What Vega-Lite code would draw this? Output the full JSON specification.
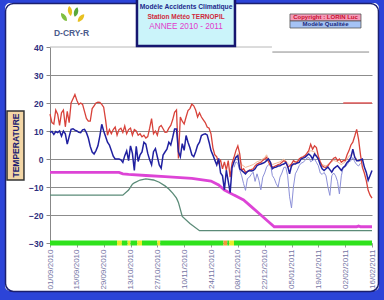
{
"$schema":"https://vega.github.io/schema/vega-lite/v6.json",
"width":322,"height":196,
"autosize":{"type":"none"},
"padding":{"left":50,"top":47,"right":12,"bottom":57},
"background":"white",
"config":{"view":{"stroke":null},"font":"Liberation Sans",
 "axis":{"labelFont":"Liberation Sans","labelOverlap":false,"labelFlush":false,"labelBound":false}},
"datasets":{
"temps":[
{"date":"2010-09-01","tmax":16,"tmoy":9.5},{"date":"2010-09-02","tmax":13,"tmoy":9.8},{"date":"2010-09-03","tmax":12.5,"tmoy":8.8},{"date":"2010-09-04","tmax":17.5,"tmoy":9.8},{"date":"2010-09-05","tmax":16,"tmoy":9.4},{"date":"2010-09-06","tmax":12,"tmoy":10},{"date":"2010-09-07","tmax":16.5,"tmoy":8.2},{"date":"2010-09-08","tmax":17.5,"tmoy":10},{"date":"2010-09-09","tmax":11.5,"tmoy":9},{"date":"2010-09-10","tmax":17,"tmoy":5.3},
{"date":"2010-09-11","tmax":13,"tmoy":8},{"date":"2010-09-12","tmax":20,"tmoy":10.6},{"date":"2010-09-13","tmax":21.5,"tmoy":10.8},{"date":"2010-09-14","tmax":23,"tmoy":10.3},{"date":"2010-09-15","tmax":21,"tmoy":10},{"date":"2010-09-16","tmax":19.5,"tmoy":9.5},{"date":"2010-09-17","tmax":20,"tmoy":9.4},{"date":"2010-09-18","tmax":19.5,"tmoy":10.4},{"date":"2010-09-19","tmax":17,"tmoy":10.6},{"date":"2010-09-20","tmax":14.5,"tmoy":9.4},
{"date":"2010-09-21","tmax":13.5,"tmoy":7.5},{"date":"2010-09-22","tmax":13.5,"tmoy":4.5},{"date":"2010-09-23","tmax":18,"tmoy":2.5},{"date":"2010-09-24","tmax":19,"tmoy":1.8},{"date":"2010-09-25","tmax":20,"tmoy":3},{"date":"2010-09-26","tmax":20.3,"tmoy":4.7},{"date":"2010-09-27","tmax":20.2,"tmoy":8.2},{"date":"2010-09-28","tmax":19.5,"tmoy":12.4},{"date":"2010-09-29","tmax":18.5,"tmoy":10},{"date":"2010-09-30","tmax":14,"tmoy":8},
{"date":"2010-10-01","tmax":8.5,"tmoy":6},{"date":"2010-10-02","tmax":10.5,"tmoy":5},{"date":"2010-10-03","tmax":9,"tmoy":3},{"date":"2010-10-04","tmax":10.5,"tmoy":1},{"date":"2010-10-05","tmax":11.4,"tmoy":0},{"date":"2010-10-06","tmax":8.5,"tmoy":0},{"date":"2010-10-07","tmax":10.5,"tmoy":0},{"date":"2010-10-08","tmax":11,"tmoy":-0.3},{"date":"2010-10-09","tmax":9.5,"tmoy":-1.2},{"date":"2010-10-10","tmax":11.8,"tmoy":1.2},
{"date":"2010-10-11","tmax":9,"tmoy":2.9},{"date":"2010-10-12","tmax":10.5,"tmoy":-0.6},{"date":"2010-10-13","tmax":11,"tmoy":4.7},{"date":"2010-10-14","tmax":8.5,"tmoy":2},{"date":"2010-10-15","tmax":10.5,"tmoy":-4.1},{"date":"2010-10-16","tmax":10,"tmoy":4.5},{"date":"2010-10-17","tmax":8.5,"tmoy":-0.9},{"date":"2010-10-18","tmax":9,"tmoy":1.5},{"date":"2010-10-19","tmax":7.9,"tmoy":2.5},{"date":"2010-10-20","tmax":8.5,"tmoy":6},
{"date":"2010-10-21","tmax":7.5,"tmoy":5.3},{"date":"2010-10-22","tmax":8,"tmoy":2},{"date":"2010-10-23","tmax":11,"tmoy":-0.3},{"date":"2010-10-24","tmax":14.4,"tmoy":-2.1},{"date":"2010-10-25","tmax":9,"tmoy":2.6},{"date":"2010-10-26","tmax":10,"tmoy":3.7},{"date":"2010-10-27","tmax":8.5,"tmoy":0.8},{"date":"2010-10-28","tmax":11.4,"tmoy":-2.1},{"date":"2010-10-29","tmax":12,"tmoy":-3.3},{"date":"2010-10-30","tmax":10.8,"tmoy":1.4},
{"date":"2010-10-31","tmax":9.5,"tmoy":2.5},{"date":"2010-11-01","tmax":9.6,"tmoy":3.5},{"date":"2010-11-02","tmax":11,"tmoy":6},{"date":"2010-11-03","tmax":12,"tmoy":5},{"date":"2010-11-04","tmax":14,"tmoy":7.7},{"date":"2010-11-05","tmax":16.7,"tmoy":10.7},{"date":"2010-11-06","tmax":17.5,"tmoy":10.7},{"date":"2010-11-07","tmax":0.2,"tmoy":2.6},{"date":"2010-11-08","tmax":15,"tmoy":0.8},{"date":"2010-11-09","tmax":13.5,"tmoy":5.5},
{"date":"2010-11-10","tmax":12.5,"tmoy":3.1},{"date":"2010-11-11","tmax":15,"tmoy":8.4},{"date":"2010-11-12","tmax":17.3,"tmoy":6},{"date":"2010-11-13","tmax":18,"tmoy":4},{"date":"2010-11-14","tmax":19.6,"tmoy":1.5},{"date":"2010-11-15","tmax":19,"tmoy":0.8},{"date":"2010-11-16","tmax":17.5,"tmoy":2.6},{"date":"2010-11-17","tmax":15,"tmoy":4.9},{"date":"2010-11-18","tmax":16.5,"tmoy":6},{"date":"2010-11-19","tmax":15,"tmoy":8.4},
{"date":"2010-11-20","tmax":14,"tmoy":8.8},{"date":"2010-11-21","tmax":13,"tmoy":9},{"date":"2010-11-22","tmax":11.4,"tmoy":8.6},{"date":"2010-11-23","tmax":11,"tmoy":6},{"date":"2010-11-24","tmax":9,"tmoy":3},{"date":"2010-11-25","tmax":4,"tmoy":1.4},{"date":"2010-11-26","tmax":1.5,"tmoy":-0.4},{"date":"2010-11-27","tmax":0.8,"tmoy":-2.1},{"date":"2010-11-28","tmax":-1.5,"tmoy":0.2},{"date":"2010-11-29","tmax":-0.5,"tmoy":-5},
{"date":"2010-11-30","tmax":-3.5,"tmoy":-6},{"date":"2010-12-01","tmax":-1,"tmoy":-11},{"date":"2010-12-02","tmax":-4,"tmoy":-4},{"date":"2010-12-03","tmax":-0.6,"tmoy":-8},{"date":"2010-12-04","tmax":-6.5,"tmoy":-12},{"date":"2010-12-05","tmax":-1.5,"tmoy":-3},{"date":"2010-12-06","tmax":0.6,"tmoy":-1},{"date":"2010-12-07","tmax":3,"tmoy":0.6},{"date":"2010-12-08","tmax":4.7,"tmoy":1.2},{"date":"2010-12-09","tmax":1.8,"tmoy":-3.5},
{"date":"2010-12-10","tmax":-4,"tmoy":-4.1},{"date":"2010-12-11","tmax":-3.5,"tmoy":-4.7},{"date":"2010-12-12","tmax":-4.7,"tmoy":-5.3},{"date":"2010-12-13","tmax":-4.5,"tmoy":-4.5},{"date":"2010-12-14","tmax":-4,"tmoy":-4.1},{"date":"2010-12-15","tmax":-3.8,"tmoy":-4.3},{"date":"2010-12-16","tmax":-3.5,"tmoy":-4.1},{"date":"2010-12-17","tmax":-2.5,"tmoy":-3.5},{"date":"2010-12-18","tmax":-1.8,"tmoy":-2.4},{"date":"2010-12-19","tmax":-1.5,"tmoy":-2},
{"date":"2010-12-20","tmax":-1.2,"tmoy":-1.8},{"date":"2010-12-21","tmax":-0.5,"tmoy":-1.5},{"date":"2010-12-22","tmax":0,"tmoy":-1.2},{"date":"2010-12-23","tmax":0.6,"tmoy":-0.6},{"date":"2010-12-24","tmax":-1,"tmoy":0},{"date":"2010-12-25","tmax":-2.4,"tmoy":-1.2},{"date":"2010-12-26","tmax":-2.9,"tmoy":-3.5},{"date":"2010-12-27","tmax":-2.7,"tmoy":-3},{"date":"2010-12-28","tmax":-2.4,"tmoy":-2.9},{"date":"2010-12-29","tmax":-2,"tmoy":-2.5},
{"date":"2010-12-30","tmax":-1.8,"tmoy":-2.4},{"date":"2010-12-31","tmax":-1.2,"tmoy":-2},{"date":"2011-01-01","tmax":-0.6,"tmoy":-1.8},{"date":"2011-01-02","tmax":-1,"tmoy":-1.2},{"date":"2011-01-03","tmax":-2.9,"tmoy":-2.5},{"date":"2011-01-04","tmax":-2.5,"tmoy":-5.3},{"date":"2011-01-05","tmax":-1.8,"tmoy":-2.4},{"date":"2011-01-06","tmax":-0.6,"tmoy":-1.8},{"date":"2011-01-07","tmax":-1,"tmoy":-1.8},{"date":"2011-01-08","tmax":-1.2,"tmoy":-1.4},
{"date":"2011-01-09","tmax":0,"tmoy":-1.2},{"date":"2011-01-10","tmax":0.5,"tmoy":0},{"date":"2011-01-11","tmax":0.8,"tmoy":0.3},{"date":"2011-01-12","tmax":1.2,"tmoy":0.6},{"date":"2011-01-13","tmax":2,"tmoy":1.2},{"date":"2011-01-14","tmax":3,"tmoy":1.8},{"date":"2011-01-15","tmax":5.3,"tmoy":1.2},{"date":"2011-01-16","tmax":3.5,"tmoy":0},{"date":"2011-01-17","tmax":4.7,"tmoy":1.8},{"date":"2011-01-18","tmax":4.1,"tmoy":1},
{"date":"2011-01-19","tmax":1,"tmoy":0},{"date":"2011-01-20","tmax":-1,"tmoy":-2},{"date":"2011-01-21","tmax":-2.4,"tmoy":-3.5},{"date":"2011-01-22","tmax":-2.9,"tmoy":-4.1},{"date":"2011-01-23","tmax":-3,"tmoy":-3.5},{"date":"2011-01-24","tmax":-2.4,"tmoy":-2.9},{"date":"2011-01-25","tmax":-1.5,"tmoy":-3.8},{"date":"2011-01-26","tmax":-0.6,"tmoy":-4.7},{"date":"2011-01-27","tmax":0.3,"tmoy":-3.5},{"date":"2011-01-28","tmax":0.6,"tmoy":-2.9},
{"date":"2011-01-29","tmax":-0.6,"tmoy":-2.4},{"date":"2011-01-30","tmax":0,"tmoy":-3.2},{"date":"2011-01-31","tmax":-1.2,"tmoy":-4.1},{"date":"2011-02-01","tmax":-0.6,"tmoy":-3},{"date":"2011-02-02","tmax":-0.6,"tmoy":-2.4},{"date":"2011-02-03","tmax":1.5,"tmoy":-1.2},{"date":"2011-02-04","tmax":3,"tmoy":-0.6},{"date":"2011-02-05","tmax":5,"tmoy":0.6},{"date":"2011-02-06","tmax":6,"tmoy":3.5},{"date":"2011-02-07","tmax":8.2,"tmoy":0.6},
{"date":"2011-02-08","tmax":10.6,"tmoy":-0.6},{"date":"2011-02-09","tmax":7,"tmoy":-0.6},{"date":"2011-02-10","tmax":1.5,"tmoy":-0.3},{"date":"2011-02-11","tmax":-3,"tmoy":0},{"date":"2011-02-12","tmax":-5,"tmoy":-2.9},{"date":"2011-02-13","tmax":-7.6,"tmoy":-4.7},{"date":"2011-02-14","tmax":-11.2,"tmoy":-7.6},{"date":"2011-02-15","tmax":-12.9,"tmoy":-5.9},{"date":"2011-02-16","tmax":-14,"tmoy":-4.1}
],
"tmin":[
{"date":"2010-12-06","t":-3},{"date":"2010-12-07","t":-1},{"date":"2010-12-08","t":-1.5},{"date":"2010-12-09","t":-4},{"date":"2010-12-10","t":-6},{"date":"2010-12-11","t":-8.8},{"date":"2010-12-12","t":-11.2},{"date":"2010-12-13","t":-7},{"date":"2010-12-14","t":-6.5},{"date":"2010-12-15","t":-5.5},
{"date":"2010-12-16","t":-4.7},{"date":"2010-12-17","t":-8},{"date":"2010-12-18","t":-5.3},{"date":"2010-12-19","t":-7.6},{"date":"2010-12-20","t":-11},{"date":"2010-12-21","t":-6.5},{"date":"2010-12-22","t":-5},{"date":"2010-12-23","t":-2.9},{"date":"2010-12-24","t":-2},{"date":"2010-12-25","t":-1.5},
{"date":"2010-12-26","t":-5.9},{"date":"2010-12-27","t":-7},{"date":"2010-12-28","t":-8.8},{"date":"2010-12-29","t":-10},{"date":"2010-12-30","t":-6.5},{"date":"2010-12-31","t":-5},{"date":"2011-01-01","t":-3},{"date":"2011-01-02","t":-2.9},{"date":"2011-01-03","t":-6},{"date":"2011-01-04","t":-13.5},
{"date":"2011-01-05","t":-17.5},{"date":"2011-01-06","t":-10},{"date":"2011-01-07","t":-5.3},{"date":"2011-01-08","t":-4},{"date":"2011-01-09","t":-2.4},{"date":"2011-01-10","t":-1.5},{"date":"2011-01-11","t":-1.2},{"date":"2011-01-12","t":-0.6},{"date":"2011-01-13","t":0.3},{"date":"2011-01-14","t":0.6},
{"date":"2011-01-15","t":-1},{"date":"2011-01-16","t":-0.5},{"date":"2011-01-17","t":0},{"date":"2011-01-18","t":-1.2},{"date":"2011-01-19","t":-2.4},{"date":"2011-01-20","t":-5},{"date":"2011-01-21","t":-5.5},{"date":"2011-01-22","t":-4.8},{"date":"2011-01-23","t":-6},{"date":"2011-01-24","t":-10},
{"date":"2011-01-25","t":-13},{"date":"2011-01-26","t":-6},{"date":"2011-01-27","t":-5},{"date":"2011-01-28","t":-6},{"date":"2011-01-29","t":-8},{"date":"2011-01-30","t":-12.5},{"date":"2011-01-31","t":-6},{"date":"2011-02-01","t":-3},{"date":"2011-02-02","t":-2.9},{"date":"2011-02-03","t":-2},
{"date":"2011-02-04","t":-1},{"date":"2011-02-05","t":-0.6},{"date":"2011-02-06","t":0.5},{"date":"2011-02-07","t":-1},{"date":"2011-02-08","t":-2},{"date":"2011-02-09","t":-2.5},{"date":"2011-02-10","t":-1.5}
],
"talt":[
{"date":"2010-12-06","t":-1},{"date":"2010-12-08","t":2},{"date":"2010-12-10","t":-2},{"date":"2010-12-12","t":-3},{"date":"2010-12-14","t":-2.5},{"date":"2010-12-16","t":-2},{"date":"2010-12-18","t":-1},{"date":"2010-12-20","t":-0.5},{"date":"2010-12-22","t":0.5},{"date":"2010-12-23","t":1.5},
{"date":"2010-12-24","t":0},{"date":"2010-12-26","t":-2},{"date":"2010-12-28","t":-1.5},{"date":"2010-12-30","t":-1},{"date":"2011-01-01","t":0},{"date":"2011-01-03","t":-1.5},{"date":"2011-01-05","t":-3},{"date":"2011-01-07","t":-1},{"date":"2011-01-09","t":-0.5},{"date":"2011-01-11","t":0.5},
{"date":"2011-01-13","t":1.5},{"date":"2011-01-15","t":3},{"date":"2011-01-17","t":2.5},{"date":"2011-01-19","t":0},{"date":"2011-01-21","t":-2},{"date":"2011-01-23","t":-2.5},{"date":"2011-01-25","t":-1.5},{"date":"2011-01-27","t":-0.5},{"date":"2011-01-29","t":-1},{"date":"2011-01-31","t":-2},
{"date":"2011-02-02","t":-1},{"date":"2011-02-04","t":1},{"date":"2011-02-06","t":2},{"date":"2011-02-08","t":0},{"date":"2011-02-10","t":-1}
],
"neige":[
{"date":"2010-09-01","t":-4.8},{"date":"2010-10-07","t":-4.8},{"date":"2010-10-09","t":-5.3},{"date":"2010-10-12","t":-5.5},{"date":"2010-10-21","t":-5.9},{"date":"2010-10-31","t":-6.3},{"date":"2010-11-14","t":-6.9},{"date":"2010-11-24","t":-7.9},{"date":"2010-11-28","t":-9.3},{"date":"2010-12-01","t":-11.1},
{"date":"2010-12-06","t":-12.9},{"date":"2010-12-11","t":-14.6},{"date":"2010-12-15","t":-17},{"date":"2010-12-20","t":-20},{"date":"2010-12-24","t":-22.4},{"date":"2010-12-27","t":-24.2},{"date":"2011-02-08","t":-24.2},{"date":"2011-02-09","t":-23.9},{"date":"2011-02-10","t":-24.2},{"date":"2011-02-16","t":-24.2}
],
"gel":[
{"date":"2010-09-01","t":-12.9},{"date":"2010-10-09","t":-12.9},{"date":"2010-10-12","t":-11.1},{"date":"2010-10-14","t":-9},{"date":"2010-10-15","t":-8.5},{"date":"2010-10-18","t":-7.5},{"date":"2010-10-21","t":-7.1},{"date":"2010-10-25","t":-7.5},{"date":"2010-10-28","t":-8.3},{"date":"2010-10-31","t":-9.6},
{"date":"2010-11-02","t":-10.7},{"date":"2010-11-04","t":-12.2},{"date":"2010-11-06","t":-14},{"date":"2010-11-07","t":-15.5},{"date":"2010-11-09","t":-20.5},{"date":"2010-11-13","t":-23},{"date":"2010-11-18","t":-25.6},{"date":"2011-02-16","t":-25.6}
],
"seuil":[{"date":"2011-02-01","t":20},{"date":"2011-02-16","t":20}],
"etat":[
{"start":"2010-09-01","end":"2010-10-06","niveau":"normal"},
{"start":"2010-10-06","end":"2010-10-08T12:00","niveau":"vigilance"},
{"start":"2010-10-08T12:00","end":"2010-10-11T12:00","niveau":"normal"},
{"start":"2010-10-11T12:00","end":"2010-10-13","niveau":"vigilance"},
{"start":"2010-10-13","end":"2010-10-16T12:00","niveau":"normal"},
{"start":"2010-10-16T12:00","end":"2010-10-19","niveau":"vigilance"},
{"start":"2010-10-19","end":"2010-10-27","niveau":"normal"},
{"start":"2010-10-27","end":"2010-10-28T12:00","niveau":"vigilance"},
{"start":"2010-10-28T12:00","end":"2010-11-30T12:00","niveau":"normal"},
{"start":"2010-11-30T12:00","end":"2010-12-02T12:00","niveau":"alerte"},
{"start":"2010-12-02T12:00","end":"2010-12-03T12:00","niveau":"normal"},
{"start":"2010-12-03T12:00","end":"2010-12-06","niveau":"vigilance"},
{"start":"2010-12-06","end":"2011-02-16","niveau":"normal"}
]
},
"layer":[
{"data":{"name":"gel"},
 "mark":{"type":"line","color":"#5b8b78","strokeWidth":1.3},
 "encoding":{
  "x":{"field":"date","type":"temporal","title":null,
   "scale":{"domain":[{"year":2010,"month":9,"date":1},{"year":2011,"month":2,"date":16}],"nice":false},
   "axis":{"title":null,"tickCount":40,"values":[{"year":2010,"month":9,"date":1},{"year":2010,"month":9,"date":15},{"year":2010,"month":9,"date":29},{"year":2010,"month":10,"date":13},{"year":2010,"month":10,"date":27},{"year":2010,"month":11,"date":10},{"year":2010,"month":11,"date":24},{"year":2010,"month":12,"date":8},{"year":2010,"month":12,"date":22},{"year":2011,"month":1,"date":5},{"year":2011,"month":1,"date":19},{"year":2011,"month":2,"date":2},{"year":2011,"month":2,"date":16}],
    "format":"%d/%m/%Y","labelAngle":-90,"labelFontSize":8,"labelColor":"#7474a4","tickSize":4,"tickColor":"#999999","domain":false,"grid":false,"labelPadding":2}},
  "y":{"field":"t","type":"quantitative","title":null,
   "scale":{"domain":[-30,40],"nice":false,"zero":false},
   "axis":{"title":null,"tickCount":40,"values":[-30,-20,-10,0,10,20,30,40],"labelFontWeight":"bold","labelFontSize":8.5,"labelColor":"#2e2e7e","tickSize":4,"tickColor":"#888888","domainColor":"#888888","grid":true,"gridColor":"#8c8c8c","gridOpacity":{"condition":{"test":"datum.value === 40","value":0},"value":1},"labelPadding":3}}}},
{"data":{"values":[{}]},
 "mark":{"type":"rect","filled":false,"stroke":"#2c44d8","strokeWidth":14,"cornerRadius":12},
 "encoding":{"x":{"datum":{"year":2010,"month":8,"date":4,"hours":21},"type":"temporal"},"x2":{"datum":{"year":2011,"month":2,"date":23,"hours":7}},"y":{"datum":58.2,"type":"quantitative"},"y2":{"datum":-49.6}}},
{"data":{"values":[{}]},
 "mark":{"type":"rect","filled":false,"stroke":"#1b1f6e","strokeWidth":1.5,"cornerRadius":8},
 "encoding":{"x":{"datum":{"year":2010,"month":8,"date":8,"hours":19},"type":"temporal"},"x2":{"datum":{"year":2011,"month":2,"date":19,"hours":9}},"y":{"datum":55.54},"y2":{"datum":-47.32}}},
{"data":{"values":[{}]},
 "mark":{"type":"rule","color":"#b8b8b8","strokeWidth":1},
 "encoding":{"x":{"datum":{"year":2010,"month":9,"date":1},"type":"temporal"},"x2":{"datum":{"year":2010,"month":12,"date":25,"hours":19}},"y":{"datum":40}}},
{"data":{"values":[{}]},
 "mark":{"type":"rule","color":"#8a8a8a","strokeWidth":1},
 "encoding":{"x":{"datum":{"year":2010,"month":12,"date":26},"type":"temporal"},"x2":{"datum":{"year":2011,"month":2,"date":14,"hours":12}},"y":{"datum":38.2}}},
{"data":{"values":[{}]},
 "mark":{"type":"rect","fill":"#cbf4fa","stroke":"#161670","strokeWidth":2.5},
 "encoding":{"x":{"datum":{"year":2010,"month":10,"date":16,"hours":9},"type":"temporal"},"x2":{"datum":{"year":2010,"month":12,"date":6,"hours":12}},"y":{"datum":57.5},"y2":{"datum":40.36}}},
{"data":{"values":[{}]},
 "mark":{"type":"text","text":"Modèle Accidents Climatique","fontSize":6.7,"fontWeight":"bold","color":"#1c2a8c","align":"center","baseline":"middle"},
 "encoding":{"x":{"datum":{"year":2010,"month":11,"date":11},"type":"temporal"},"y":{"datum":54.3}}},
{"data":{"values":[{}]},
 "mark":{"type":"text","text":"Station Météo TERNOPIL","fontSize":6.5,"fontWeight":"bold","color":"#d02a3a","align":"center","baseline":"middle"},
 "encoding":{"x":{"datum":{"year":2010,"month":11,"date":11},"type":"temporal"},"y":{"datum":50.7}}},
{"data":{"values":[{}]},
 "mark":{"type":"text","text":"ANNEE 2010 - 2011","fontSize":8.2,"color":"#e03ccc","align":"center","baseline":"middle"},
 "encoding":{"x":{"datum":{"year":2010,"month":11,"date":11},"type":"temporal"},"y":{"datum":47.1}}},
{"data":{"values":[{}]},
 "mark":{"type":"rect","fill":"#f49bb9","stroke":"#555555","strokeWidth":0.8},
 "encoding":{"x":{"datum":{"year":2011,"month":1,"date":4,"hours":5},"type":"temporal"},"x2":{"datum":{"year":2011,"month":2,"date":10,"hours":6}},"y":{"datum":51.79},"y2":{"datum":49.29}}},
{"data":{"values":[{}]},
 "mark":{"type":"rect","fill":"#a5c3f5","stroke":"#555555","strokeWidth":0.8},
 "encoding":{"x":{"datum":{"year":2011,"month":1,"date":4,"hours":5},"type":"temporal"},"x2":{"datum":{"year":2011,"month":2,"date":10,"hours":6}},"y":{"datum":49.29},"y2":{"datum":46.79}}},
{"data":{"values":[{}]},
 "mark":{"type":"text","text":"Copyright : LORIN Luc","fontSize":6,"fontWeight":"bold","color":"#c8102e","align":"center","baseline":"middle"},
 "encoding":{"x":{"datum":{"year":2011,"month":1,"date":22,"hours":18},"type":"temporal"},"y":{"datum":50.54}}},
{"data":{"values":[{}]},
 "mark":{"type":"text","text":"Modèle Qualitée","fontSize":6,"fontWeight":"bold","color":"#1b2a7a","align":"center","baseline":"middle"},
 "encoding":{"x":{"datum":{"year":2011,"month":1,"date":22,"hours":18},"type":"temporal"},"y":{"datum":48.04}}},
{"data":{"values":[{}]},
 "mark":{"type":"rect","fill":"#f3d6a6","stroke":"#333333","strokeWidth":1.5},
 "encoding":{"x":{"datum":{"year":2010,"month":8,"date":9,"hours":14},"type":"temporal"},"x2":{"datum":{"year":2010,"month":8,"date":18,"hours":10}},"y":{"datum":17.14},"y2":{"datum":-7.5}}},
{"data":{"values":[{}]},
 "mark":{"type":"text","text":"TEMPERATURE","fontSize":8.5,"fontWeight":"bold","color":"#1a1a70","angle":270,"align":"center","baseline":"middle"},
 "encoding":{"x":{"datum":{"year":2010,"month":8,"date":14},"type":"temporal"},"y":{"datum":4.82}}},
{"data":{"values":[{}]},
 "mark":{"type":"text","text":"D-CRY-R","fontSize":8.5,"fontWeight":"bold","color":"#4c5b8c","align":"center","baseline":"middle"},
 "encoding":{"x":{"datum":{"year":2010,"month":9,"date":12,"hours":5},"type":"temporal"},"y":{"datum":45.0}}},
{"data":{"values":[{}]},
 "mark":{"type":"point","shape":"M0,-1C0.55,-0.45 0.55,0.45 0,1C-0.55,0.45 -0.55,-0.45 0,-1Z","filled":true,"color":"#7fbf3f","size":100,"angle":-35,"opacity":1},
 "encoding":{"x":{"datum":{"year":2010,"month":9,"date":8,"hours":7},"type":"temporal"},"y":{"datum":50.71}}},
{"data":{"values":[{}]},
 "mark":{"type":"point","shape":"M0,-1C0.55,-0.45 0.55,0.45 0,1C-0.55,0.45 -0.55,-0.45 0,-1Z","filled":true,"color":"#e8c020","size":100,"angle":-10,"opacity":1},
 "encoding":{"x":{"datum":{"year":2010,"month":9,"date":11,"hours":10},"type":"temporal"},"y":{"datum":52.86}}},
{"data":{"values":[{}]},
 "mark":{"type":"point","shape":"M0,-1C0.55,-0.45 0.55,0.45 0,1C-0.55,0.45 -0.55,-0.45 0,-1Z","filled":true,"color":"#5aa83a","size":100,"angle":15,"opacity":1},
 "encoding":{"x":{"datum":{"year":2010,"month":9,"date":14,"hours":14},"type":"temporal"},"y":{"datum":52.5}}},
{"data":{"values":[{}]},
 "mark":{"type":"point","shape":"M0,-1C0.55,-0.45 0.55,0.45 0,1C-0.55,0.45 -0.55,-0.45 0,-1Z","filled":true,"color":"#e8c020","size":100,"angle":40,"opacity":1},
 "encoding":{"x":{"datum":{"year":2010,"month":9,"date":17,"hours":4},"type":"temporal"},"y":{"datum":50.36}}},
{"data":{"name":"etat"},
 "mark":{"type":"rule","strokeWidth":5,"strokeCap":"butt"},
 "encoding":{"x":{"field":"start","type":"temporal","title":null},"x2":{"field":"end"},"y":{"datum":-30},
  "color":{"field":"niveau","type":"nominal","scale":{"domain":["normal","vigilance","alerte"],"range":["#2fe21c","#ecec2a","#f09a3a"]},"legend":null}}},
{"data":{"name":"neige"},
 "mark":{"type":"line","color":"#dd44d6","strokeWidth":2.8},
 "encoding":{"x":{"field":"date","type":"temporal","title":null},"y":{"field":"t","type":"quantitative","title":null}}},
{"data":{"name":"seuil"},
 "mark":{"type":"line","color":"#e05a5a","strokeWidth":1.5},
 "encoding":{"x":{"field":"date","type":"temporal","title":null},"y":{"field":"t","type":"quantitative","title":null}}},
{"data":{"name":"talt"},
 "mark":{"type":"line","color":"#f2b896","strokeWidth":1},
 "encoding":{"x":{"field":"date","type":"temporal","title":null},"y":{"field":"t","type":"quantitative","title":null}}},
{"data":{"name":"tmin"},
 "mark":{"type":"line","color":"#8c90d8","strokeWidth":1},
 "encoding":{"x":{"field":"date","type":"temporal","title":null},"y":{"field":"t","type":"quantitative","title":null}}},
{"data":{"name":"temps"},
 "mark":{"type":"line","color":"#d8423a","strokeWidth":1.3},
 "encoding":{"x":{"field":"date","type":"temporal","title":null},"y":{"field":"tmax","type":"quantitative","title":null}}},
{"data":{"name":"temps"},
 "mark":{"type":"line","color":"#2020a0","strokeWidth":1.5},
 "encoding":{"x":{"field":"date","type":"temporal","title":null},"y":{"field":"tmoy","type":"quantitative","title":null}}}
]
}
